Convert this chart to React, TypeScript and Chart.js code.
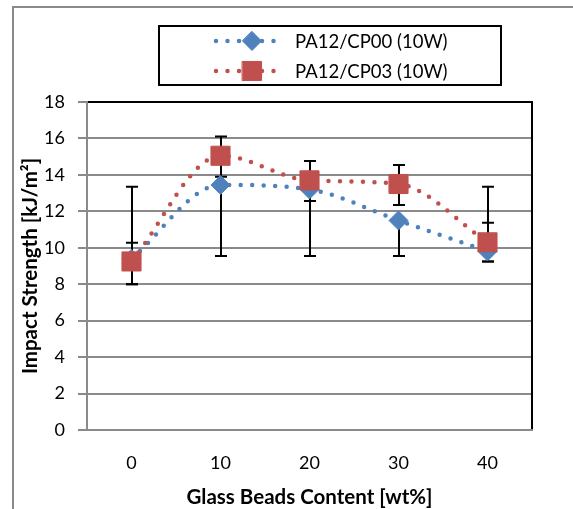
import React, { useEffect, useRef } from 'react';
import { Chart, registerables } from 'chart.js';

Chart.register(...registerables);

const categories = ['0', '10', '20', '30', '40'];
const seriesNames = ['PA12/CP00 (10W)', 'PA12/CP03 (10W)'];
const cp00 = [9.4, 13.45, 13.2, 11.5, 9.8];
const cp03 = [9.25, 15.05, 13.7, 13.5, 10.3];
const cp00Low = [8.0, 9.55, 9.55, 9.55, 9.25];
const cp00High = [13.35, 13.45, 13.2, 11.5, 13.35];
const cp03Low = [8.0, 13.9, 12.57, 12.35, 9.25];
const cp03High = [10.28, 16.1, 14.76, 14.54, 11.38];
const yTicks = [0, 2, 4, 6, 8, 10, 12, 14, 16, 18];

const BLUE = '#4F81BD';
const RED = '#C0504D';
const GRID = '#8a8a8a';
const FONT = 'Lato, "Open Sans", sans-serif';

const frameAndErrors = {
  id: 'frameAndErrors',
  beforeDraw(chart: any) {
    const ctx = chart.ctx;
    ctx.save();
    ctx.strokeStyle = '#8a8a8a';
    ctx.lineWidth = 2;
    ctx.beginPath();
    ctx.moveTo(13, 509);
    ctx.lineTo(13, 7);
    ctx.lineTo(573, 7);
    ctx.stroke();
    ctx.restore();
  },
  beforeDatasetsDraw(chart: any) {
    const { ctx, chartArea } = chart;
    const x = chart.scales.x;
    const y = chart.scales.y;
    ctx.save();
    ctx.lineWidth = 2;
    ctx.strokeStyle = '#000';
    ctx.beginPath();
    ctx.moveTo(chartArea.left, chartArea.top);
    ctx.lineTo(chartArea.right, chartArea.top);
    ctx.lineTo(chartArea.right, chartArea.bottom);
    ctx.stroke();
    ctx.strokeStyle = GRID;
    ctx.beginPath();
    ctx.moveTo(chartArea.left, chartArea.top - 1);
    ctx.lineTo(chartArea.left, chartArea.bottom);
    ctx.lineTo(chartArea.right + 1, chartArea.bottom);
    ctx.stroke();
    ctx.strokeStyle = '#000';
    ctx.lineWidth = 2;
    const sets = [
      [cp00Low, cp00High],
      [cp03Low, cp03High],
    ];
    sets.forEach(([lo, hi]) => {
      categories.forEach((_, i) => {
        const px = Math.round(x.getPixelForValue(i));
        const yl = y.getPixelForValue(lo[i]);
        const yh = y.getPixelForValue(hi[i]);
        ctx.beginPath();
        ctx.moveTo(px, yl);
        ctx.lineTo(px, yh);
        ctx.moveTo(px - 6, yl);
        ctx.lineTo(px + 6, yl);
        ctx.moveTo(px - 6, yh);
        ctx.lineTo(px + 6, yh);
        ctx.stroke();
      });
    });
    ctx.restore();
  },
  afterDraw(chart: any) {
    const ctx = chart.ctx;
    ctx.save();
    const bx = 159, by = 26, bw = 342, bh = 59;
    ctx.fillStyle = '#fff';
    ctx.fillRect(bx, by, bw, bh);
    ctx.strokeStyle = '#000';
    ctx.lineWidth = 2;
    ctx.strokeRect(bx, by, bw, bh);
    const rows = [
      { y: 41, color: BLUE, style: 'rectRot', r: 9.5, name: seriesNames[0] },
      { y: 71, color: RED, style: 'rect', r: 13.5, name: seriesNames[1] },
    ];
    rows.forEach((row) => {
      ctx.strokeStyle = row.color;
      ctx.lineWidth = 4.5;
      ctx.lineCap = 'round';
      ctx.setLineDash([0, 11.5]);
      ctx.beginPath();
      ctx.moveTo(216, row.y);
      ctx.lineTo(283, row.y);
      ctx.stroke();
      ctx.setLineDash([]);
      ctx.fillStyle = row.color;
      ctx.lineWidth = 1;
      const r = row.r;
      ctx.beginPath();
      if (row.style === 'rectRot') {
        ctx.moveTo(252, row.y - r);
        ctx.lineTo(252 + r, row.y);
        ctx.lineTo(252, row.y + r);
        ctx.lineTo(252 - r, row.y);
        ctx.closePath();
      } else {
        const s = r * Math.SQRT1_2;
        ctx.rect(252 - s, row.y - s, 2 * s, 2 * s);
      }
      ctx.fill();
      ctx.stroke();
      ctx.fillStyle = '#000';
      ctx.font = `18.5px ${FONT}`;
      ctx.textAlign = 'left';
      ctx.textBaseline = 'middle';
      ctx.fillText(row.name, 295, row.y + 1);
    });
    ctx.restore();
  },
};

export default function App() {
  const ref = useRef<HTMLCanvasElement>(null);
  useEffect(() => {
    if (!ref.current) return;
    const chart = new Chart(ref.current, {
      type: 'line',
      data: {
        labels: categories,
        datasets: [
          {
            label: seriesNames[0],
            data: cp00,
            order: 1,
            borderColor: BLUE,
            backgroundColor: BLUE,
            borderWidth: 4.5,
            borderDash: [0, 11.5],
            borderCapStyle: 'round',
            cubicInterpolationMode: 'monotone',
            pointStyle: 'rectRot',
            pointRadius: 9.5,
            pointBorderWidth: 1,
            pointBorderColor: BLUE,
            pointBackgroundColor: BLUE,
          },
          {
            label: seriesNames[1],
            data: cp03,
            order: 0,
            borderColor: RED,
            backgroundColor: RED,
            borderWidth: 4.5,
            borderDash: [0, 11.5],
            borderCapStyle: 'round',
            cubicInterpolationMode: 'monotone',
            pointStyle: 'rect',
            pointRadius: 13.5,
            pointBorderWidth: 1,
            pointBorderColor: RED,
            pointBackgroundColor: RED,
          },
        ],
      },
      options: {
        responsive: false,
        animation: false,
        layout: { padding: { left: 10, top: 102, right: 41, bottom: 0 } },
        plugins: { legend: { display: false }, tooltip: { enabled: false } },
        scales: {
          x: {
            offset: true,
            grid: { display: false, drawTicks: false, offset: true },
            border: { display: false },
            ticks: { color: '#000', font: { family: FONT, size: 18 }, padding: 22 },
            title: {
              display: true,
              text: 'Glass Beads Content [wt%]',
              color: '#000',
              font: { family: FONT, size: 20.5, weight: 'bold' },
              padding: { top: 0, bottom: -1 },
            },
            afterFit: (s: any) => { s.height = 79; },
          },
          y: {
            min: 0,
            max: 18,
            afterBuildTicks: (s: any) => { s.ticks = yTicks.map((v) => ({ value: v })); },
            grid: { color: GRID, lineWidth: 2, drawTicks: true, tickLength: 9 },
            border: { display: false },
            ticks: { color: '#000', font: { family: FONT, size: 18 }, padding: 13 },
            title: {
              display: true,
              text: 'Impact Strength [kJ/m²]',
              color: '#000',
              font: { family: FONT, size: 20.5, weight: 'bold' },
              padding: { top: 8, bottom: 0 },
            },
            afterFit: (s: any) => { s.width = 77; },
          },
        },
      },
      plugins: [frameAndErrors],
    } as any);
    return () => chart.destroy();
  }, []);
  return (
    <div style={{ position: 'absolute', left: 0, top: 0, width: 573, height: 509, background: '#fff' }}>
      <canvas ref={ref} width={573} height={509} style={{ display: 'block' }} />
    </div>
  );
}
